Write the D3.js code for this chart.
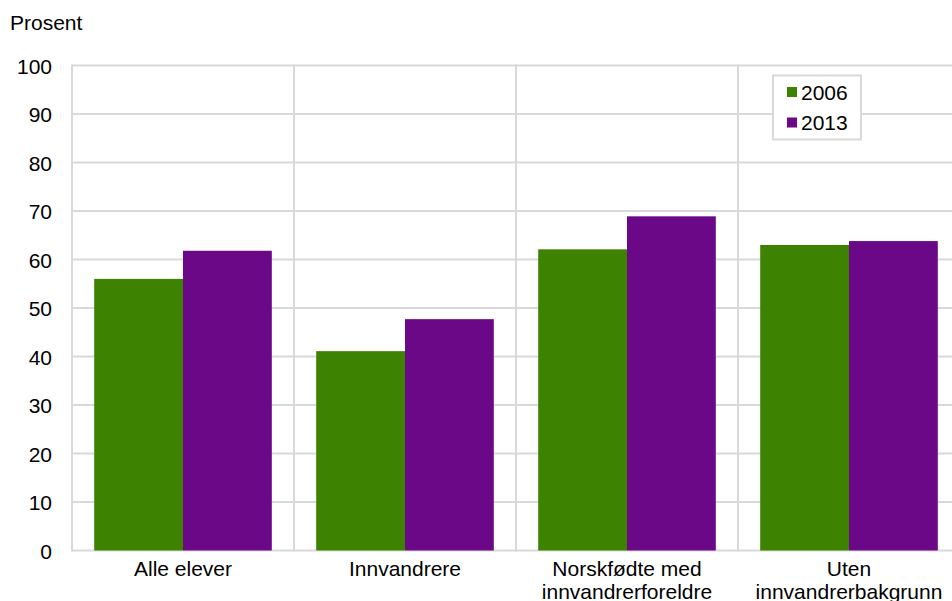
<!DOCTYPE html>
<html><head><meta charset="utf-8">
<script src="https://cdn.jsdelivr.net/npm/d3@7"></script>
<style>body{margin:0;background:#fff}svg{display:block}text{font-family:"Liberation Sans",Arial,sans-serif;fill:#000}</style>
</head><body><svg id="c" width="952" height="601"></svg>
<script>
const categories = [["Alle elever"], ["Innvandrere"], ["Norskfødte med", "innvandrerforeldre"], ["Uten", "innvandrerbakgrunn"]];
const seriesNames = ["2006", "2013"];
const values2006 = [56.0, 41.1, 62.1, 63.0];
const values2013 = [61.8, 47.7, 68.9, 63.8];
const yTicks = [0, 10, 20, 30, 40, 50, 60, 70, 80, 90, 100];
const colors = ["#3d8200", "#6a0888"];

(function () {
const svg = d3.select("#c");
const pLeft = 72, pRight = 960, pTop = 65.5, pBottom = 550.5;
const fs = 21;
const keys = categories.map((c, i) => i);
const x0 = d3.scaleBand().domain(keys).range([pLeft, pRight]).paddingInner(0.2).paddingOuter(0.1);
const x1 = d3.scaleBand().domain(seriesNames).range([0, x0.bandwidth()]);
const y = d3.scaleLinear().domain([0, 100]).range([pBottom, pTop]);
const step = x0.step();
const grid = "#d9d9d9";

// horizontal gridlines
svg.append("g").selectAll("line").data(yTicks).join("line")
  .attr("x1", pLeft).attr("x2", pRight).attr("y1", d => y(d)).attr("y2", d => y(d))
  .attr("stroke", grid).attr("stroke-width", 2);
// vertical gridlines
svg.append("g").selectAll("line").data(d3.range(keys.length + 1)).join("line")
  .attr("x1", i => pLeft + i * step).attr("x2", i => pLeft + i * step)
  .attr("y1", pTop - 1).attr("y2", pBottom + 1)
  .attr("stroke", grid).attr("stroke-width", 2);

// bars
const data = keys.map(i => [values2006[i], values2013[i]]);
const g = svg.append("g").selectAll("g").data(data).join("g")
  .attr("transform", (d, i) => `translate(${x0(i)},0)`);
g.selectAll("rect").data(d => d.map((v, j) => ({v, j}))).join("rect")
  .attr("x", d => x1(seriesNames[d.j])).attr("width", x1.bandwidth())
  .attr("y", d => y(d.v)).attr("height", d => y(0) - y(d.v))
  .attr("fill", d => colors[d.j]);

// y axis labels
const yAxis = d3.axisLeft(y).tickValues(yTicks).tickSize(0).tickPadding(20);
const ya = svg.append("g").attr("transform", `translate(${pLeft},0)`).call(yAxis);
ya.select(".domain").remove();
ya.selectAll("text").style("font-size", fs + "px").style("font-family", '"Liberation Sans",Arial,sans-serif').attr("fill", "#000").attr("dy", "0.36em");

// x labels
const xl = svg.append("g").selectAll("text").data(categories).join("text")
  .attr("text-anchor", "middle").style("font-size", fs + "px")
  .attr("x", (d, i) => x0(i) + x0.bandwidth() / 2).attr("y", 575.5);
xl.selectAll("tspan").data(d => d).join("tspan")
  .attr("x", function() { return d3.select(this.parentNode).attr("x"); })
  .attr("dy", (d, i) => i === 0 ? 0 : 23.5).text(d => d);

// title
svg.append("text").attr("x", 10).attr("y", 30).style("font-size", fs + "px").text("Prosent");

// legend
const lg = svg.append("g");
lg.append("rect").attr("x", 773).attr("y", 75.5).attr("width", 88).attr("height", 64)
  .attr("fill", "#fff").attr("stroke", grid).attr("stroke-width", 2);
seriesNames.forEach((s, i) => {
  lg.append("rect").attr("x", 787).attr("y", 87 + i * 30.5).attr("width", 10).attr("height", 10).attr("fill", colors[i]);
  lg.append("text").attr("x", 801).attr("y", 99.5 + i * 30.5).style("font-size", fs + "px").text(s);
});
})();
</script></body></html>
